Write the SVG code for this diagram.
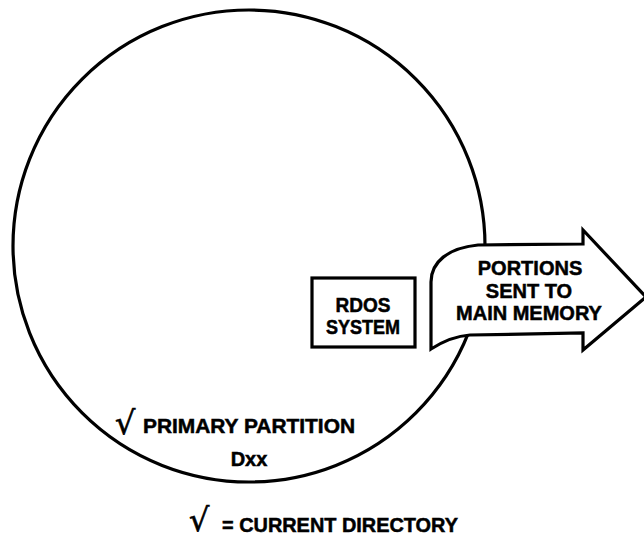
<svg xmlns="http://www.w3.org/2000/svg" width="644" height="538" viewBox="0 0 644 538">
<style>
.ln{fill:none;stroke:#000;stroke-width:3.2}
.sh{fill:#fff;stroke:#000;stroke-width:3.2;stroke-linejoin:miter}
.t{font-family:"Liberation Sans",Arial,Helvetica,sans-serif;font-weight:bold;font-size:20px;fill:#000;stroke:#000;stroke-width:0.5}
.c{text-anchor:middle}
.ck{font-family:"DejaVu Sans","Liberation Sans",sans-serif;font-size:32px;fill:#000;stroke:#000;stroke-width:0.6}
</style>
<rect width="644" height="538" fill="#fff"/>
<g id="partition">
<circle class="ln" cx="249" cy="246" r="236"/>
<text class="ck" x="115" y="434">√</text>
<text class="t" x="143" y="433" textLength="212" lengthAdjust="spacingAndGlyphs">PRIMARY PARTITION</text>
<text class="t c" x="249" y="466">Dxx</text>
</g>
<g id="rdos">
<rect class="sh" x="312" y="278" width="103" height="69"/>
<text class="t c" x="363" y="312" textLength="55" lengthAdjust="spacingAndGlyphs">RDOS</text>
<text class="t c" x="363" y="334" textLength="74" lengthAdjust="spacingAndGlyphs">SYSTEM</text>
</g>
<g id="portions">
<path class="sh" d="M431,349 L431,282 C431,262 448,248 478,245 L583,244 L583,230 L646,297 L583,350 L583,333 L470,335 C455,336 442,342 431,349 Z"/>
<text class="t c" x="530" y="275">PORTIONS</text>
<text class="t c" x="529" y="298">SENT TO</text>
<text class="t c" x="529" y="320">MAIN MEMORY</text>
</g>
<g id="legend">
<text class="ck" x="189" y="531">√</text>
<text class="t" x="222" y="532" textLength="236" lengthAdjust="spacingAndGlyphs">= CURRENT DIRECTORY</text>
</g>
</svg>
